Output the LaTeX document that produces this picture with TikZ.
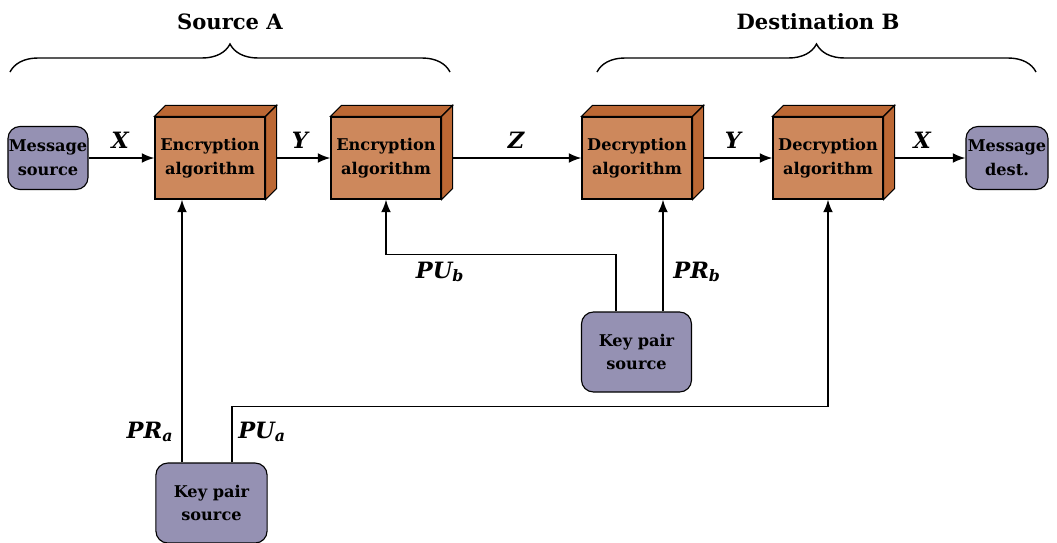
\documentclass[tikz,border=0pt]{standalone}
\usepackage{fontspec}
\setmainfont{DejaVu Serif}
\usetikzlibrary{arrows.meta,decorations.pathreplacing}
\definecolor{boxfront}{RGB}{205,136,92}
\definecolor{boxside}{RGB}{188,104,52}
\definecolor{keyfill}{RGB}{149,145,179}
\begin{document}
\begin{tikzpicture}[x=0.025cm,y=-0.025cm,
  algo/.style={draw,line width=0.8pt,fill=boxfront,minimum width=2.75cm,minimum height=2.05cm,
    align=center,inner sep=0pt,font=\fontsize{11.5}{17}\selectfont\bfseries},
  term/.style={draw,line width=0.8pt,fill=keyfill,rounded corners=0.3cm,align=center,
    inner sep=0pt,font=\fontsize{11.5}{17}\selectfont\bfseries},
  lbl/.style={font=\fontsize{16}{20}\selectfont\bfseries\itshape},
  head/.style={font=\fontsize{15}{20}\selectfont\bfseries},
  conn/.style={line width=1.2pt,-{Latex[length=9pt,width=7pt]}},
  curly/.style={decorate,decoration={brace,amplitude=0.7cm},line width=1pt}]
\useasboundingbox (0,0) rectangle (1057,542);
% headings and braces
\draw[curly] (10,72) -- (450,72);
\draw[curly] (597,72) -- (1036,72);
\node[head] (srcA) at (230,22) {Source A};
\node[head] (dstB) at (818,22) {Destination B};
% boxes
\node[term,minimum width=2cm,minimum height=1.575cm] (msrc) at (48,158) {Message\\source};
\node[algo] (enc1) at (210,158) {Encryption\\algorithm};
\node[algo] (enc2) at (386,158) {Encryption\\algorithm};
\node[algo] (dec1) at (637,158) {Decryption\\algorithm};
\node[algo] (dec2) at (828,158) {Decryption\\algorithm};
\node[term,minimum width=2.05cm,minimum height=1.575cm] (mdst) at (1007,158) {Message\\dest.};
\node[term,minimum width=2.75cm,minimum height=2cm] (keyb) at (636.5,352) {Key pair\\source};
\node[term,minimum width=2.78cm,minimum height=2cm] (keya) at (211.5,503) {Key pair\\source};
% depth of the boxes
\foreach \b in {enc1,enc2,dec1,dec2}{
  \filldraw[fill=boxside,line width=0.8pt] (\b.north west) -- ++(11,-11)
    -- ([shift={(11,-11)}]\b.north east) -- (\b.north east) -- cycle;
  \filldraw[fill=boxside,line width=0.8pt] (\b.north east) -- ([shift={(11,-11)}]\b.north east)
    -- ([shift={(11,-11)}]\b.south east) -- (\b.south east) -- cycle;
}
% data path
\draw[conn] (msrc) -- (enc1);
\draw[conn] ([shift={(11,0)}]enc1.east) -- (enc2);
\draw[conn] ([shift={(11,0)}]enc2.east) -- (dec1);
\draw[conn] ([shift={(11,0)}]dec1.east) -- (dec2);
\draw[conn] ([shift={(11,0)}]dec2.east) -- (mdst);
\node[lbl] (x1) at (120,140) {X};
\node[lbl] (y1) at (300,140) {Y};
\node[lbl] (z1) at (516,140) {Z};
\node[lbl] (y2) at (733,140) {Y};
\node[lbl] (x2) at (922,140) {X};
% keys
\coordinate (pra) at ([shift={(-29.5,0)}]keya.north);
\coordinate (pua) at ([shift={(20.5,0)}]keya.north);
\coordinate (pub) at ([shift={(-20.5,0)}]keyb.north);
\coordinate (prb) at ([shift={(26.5,0)}]keyb.north);
\draw[conn] (pra) -- (pra |- enc1.south);
\draw[conn] (pua) -- ++(0,-56) -| (dec2.south);
\draw[conn] (pub) -- ++(0,-57) -| (enc2.south);
\draw[conn] (prb) -- (prb |- dec1.south);
\node[lbl] (lpra) at (150,432) {PR\textsubscript{a}};
\node[lbl] (lpua) at (262,432) {PU\textsubscript{a}};
\node[lbl] (lpub) at (440,272) {PU\textsubscript{b}};
\node[lbl] (lprb) at (697,272) {PR\textsubscript{b}};
\end{tikzpicture}
\end{document}
